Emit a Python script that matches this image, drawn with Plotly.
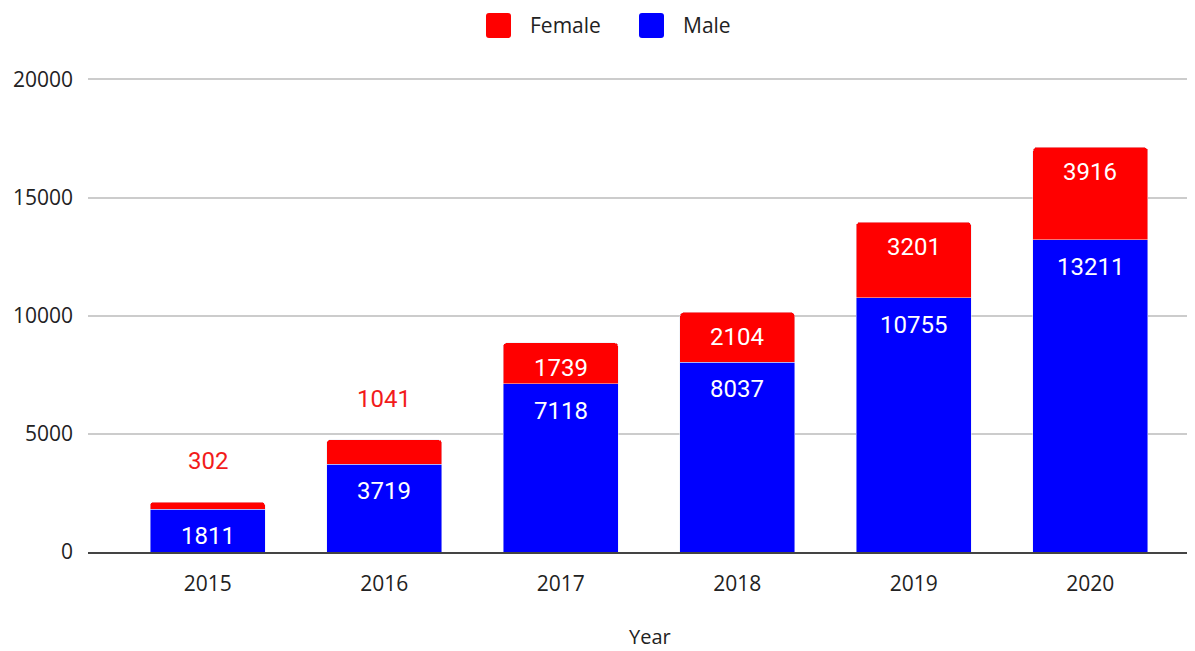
import plotly.graph_objects as go

years = ["2015", "2016", "2017", "2018", "2019", "2020"]
male = [1811, 3719, 7118, 8037, 10755, 13211]
female = [302, 1041, 1739, 2104, 3201, 3916]
female_label_outside = [True, True, False, False, False, False]
y_ticks = [0, 5000, 10000, 15000, 20000]

RED = "#ff0000"
BLUE = "#0000ff"

OFF = 8  # default page body margin
W, H = 1195 - OFF, 651 - OFF
# plot area in reference (screen) pixels
SL, SR, ST, SB = 88, 1195, 78, 552
L, R, T, B = SL - OFF, 1195 - SR, ST - OFF, H - (SB - OFF)
pw, ph = W - L - R, H - T - B

def px(x):
    return (x - SL) / pw

def py(y):
    return (SB - y) / ph

def rounded_square(x0, y0, size, r):
    # x0, y0 = top-left in screen pixels; returns path in paper coords
    x1, y1 = x0 + size, y0 + size
    pts = [
        ("M", px(x0 + r), py(y0)),
        ("L", px(x1 - r), py(y0)),
        ("Q", px(x1), py(y0), px(x1), py(y0 + r)),
        ("L", px(x1), py(y1 - r)),
        ("Q", px(x1), py(y1), px(x1 - r), py(y1)),
        ("L", px(x0 + r), py(y1)),
        ("Q", px(x0), py(y1), px(x0), py(y1 - r)),
        ("L", px(x0), py(y0 + r)),
        ("Q", px(x0), py(y0), px(x0 + r), py(y0)),
    ]
    out = []
    for p in pts:
        cmd, vals = p[0], p[1:]
        coords = " ".join(f"{vals[k]:.6f},{vals[k+1]:.6f}" for k in range(0, len(vals), 2))
        out.append(f"{cmd} {coords}")
    return " ".join(out) + " Z"

fig = go.Figure()
fig.add_trace(go.Bar(x=years, y=male, name="Male", marker_color=BLUE,
                     showlegend=False, hoverinfo="y+name"))
fig.add_trace(go.Bar(x=years, y=female, name="Female", marker_color=RED,
                     showlegend=False, hoverinfo="y+name"))

annotations = []
lab_font = dict(family="Roboto, sans-serif", size=24)
for i, yr in enumerate(years):
    total = male[i] + female[i]
    annotations.append(dict(x=i, y=male[i], xref="x", yref="y", text=str(male[i]),
                            showarrow=False, yanchor="middle", yshift=-27,
                            font=dict(lab_font, color="white")))
    if female_label_outside[i]:
        annotations.append(dict(x=i, y=total, xref="x", yref="y", text=str(female[i]),
                                showarrow=False, yanchor="middle", yshift=41,
                                font=dict(lab_font, color="#f21b1b")))
    else:
        annotations.append(dict(x=i, y=total, xref="x", yref="y", text=str(female[i]),
                                showarrow=False, yanchor="middle", yshift=-25,
                                font=dict(lab_font, color="white")))

# x-axis title
annotations.append(dict(x=px(650), y=py(636), xref="paper", yref="paper", text="Year",
                        showarrow=False, xanchor="center", yanchor="middle", borderpad=0,
                        font=dict(family="Open Sans, sans-serif", size=20, color="#222222")))

# legend (manual)
legend_items = [("Female", RED, 486), ("Male", BLUE, 639)]
shapes = []
for name, col, x0 in legend_items:
    shapes.append(dict(type="path", xref="paper", yref="paper",
                       path=rounded_square(x0, 13, 25, 3),
                       fillcolor=col, line=dict(width=0)))
    annotations.append(dict(x=px(x0 + 42), y=py(25), xref="paper", yref="paper",
                            text=name, showarrow=False, xanchor="left", yanchor="middle",
                            font=dict(family="Open Sans, sans-serif", size=21, color="#222222")))

fig.update_layout(
    width=W, height=H,
    barmode="stack",
    bargap=0.348,
    barcornerradius=4,
    plot_bgcolor="white", paper_bgcolor="white",
    margin=dict(l=L, r=R, t=T, b=B),
    showlegend=False,
    annotations=annotations,
    shapes=shapes,
    font=dict(family="Open Sans, sans-serif", size=21, color="#222222"),
)
fig.update_xaxes(
    type="category",
    range=[-0.678, 5.593],
    showgrid=False,
    showline=True, linecolor="#444444", linewidth=2,
    ticks="", ticklabelstandoff=12,
    tickfont=dict(family="Open Sans, sans-serif", size=21, color="#222222"),
)
fig.update_yaxes(
    range=[0, 20060],
    tickvals=y_ticks,
    ticktext=[str(v) for v in y_ticks],
    showgrid=True, gridcolor="#cccccc", gridwidth=1.5,
    zeroline=False,
    ticks="", ticklabelstandoff=14,
    tickfont=dict(family="Open Sans, sans-serif", size=21, color="#222222"),
)

fig.write_html("out.html")
